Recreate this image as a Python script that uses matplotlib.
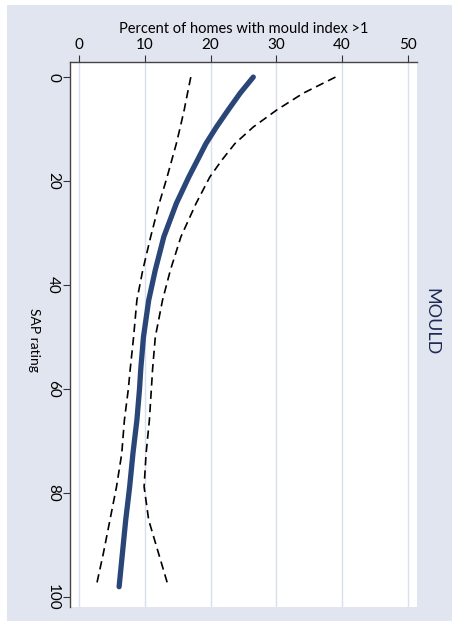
import numpy as np
import matplotlib.pyplot as plt
from matplotlib.patches import Rectangle

plt.rcParams['font.family'] = ['Lato', 'DejaVu Sans']

# SAP rating (vertical axis) and percent of homes with mould index > 1
sap = [0, 3.1, 6.3, 9.6, 12.8, 16, 19.2, 24.3, 30.7, 37.1, 42.9, 50, 56, 60, 66,
       72.4, 78.8, 85.2, 91.6, 98]
fit = [26.5, 24.5, 22.7, 20.9, 19.3, 18.0, 16.7, 14.8, 12.9, 11.6, 10.6, 9.8, 9.4,
       9.2, 8.8, 8.2, 7.7, 7.1, 6.6, 6.1]
lower = [17.0, 16.5, 16.0, 15.4, 14.8, 14.1, 13.4, 12.2, 10.9, 9.7, 8.8, 8.3, 7.8,
         7.5, 6.9, 6.5, 5.7, 4.7, 3.7, 2.6]
upper = [39.0, 34.1, 30.1, 26.5, 23.7, 21.7, 19.9, 17.8, 15.5, 13.9, 12.7, 11.6, 11.2,
         11.0, 10.7, 10.2, 9.9, 10.6, 12.1, 13.6]
xticks = [0, 10, 20, 30, 40, 50]
yticks = [0, 20, 40, 60, 80, 100]

bg = '#e1e5ef'
navy = '#2a4679'

fig = plt.figure(figsize=(4.58, 6.27), dpi=100, facecolor='white')
fig.patches.append(Rectangle((7/458, 1-621/627), 445/458, 616/627,
                             transform=fig.transFigure, facecolor=bg,
                             edgecolor='none', zorder=-10))

ax = fig.add_axes([70/458, 1-607/627, 347/458, 545/627])
ax.set_facecolor('white')

ax.plot(lower, sap, color='black', lw=1.2, ls=(0, (5, 3)))
ax.plot(upper, sap, color='black', lw=1.2, ls=(0, (5, 3)))
ax.plot(fit, sap, color=navy, lw=3.8, solid_capstyle='round',
        solid_joinstyle='round')

ax.set_xlim(-1.37, 51.4)
ax.set_ylim(101.9, -2.9)
ax.set_xticks(xticks)
ax.set_yticks(yticks)
ax.xaxis.tick_top()
ax.xaxis.set_label_position('top')
ax.tick_params(axis='x', labelsize=11, length=5, color='#333333', pad=2)
ax.tick_params(axis='y', labelsize=11, length=5, color='#333333', pad=2,
               labelrotation=-90)
for lab in ax.get_yticklabels():
    lab.set_va('center')
ax.set_xlabel('Percent of homes with mould index >1', fontsize=10.5, labelpad=4)
ax.set_ylabel('SAP rating', fontsize=10, rotation=-90, labelpad=18)
ax.yaxis.set_label_coords(-0.12, 0.49)

ax.grid(axis='x', color='#d8dfee', lw=1)
ax.set_axisbelow(True)
for s in ['right', 'bottom']:
    ax.spines[s].set_visible(False)
for s in ['left', 'top']:
    ax.spines[s].set_color('#444444')
    ax.spines[s].set_linewidth(1)

fig.text(431/458, 1-322/627, 'MOULD', rotation=-90, ha='center', va='center',
         fontsize=13, color='#1c2a55')

fig.savefig('out.png', dpi=100, facecolor='white')
